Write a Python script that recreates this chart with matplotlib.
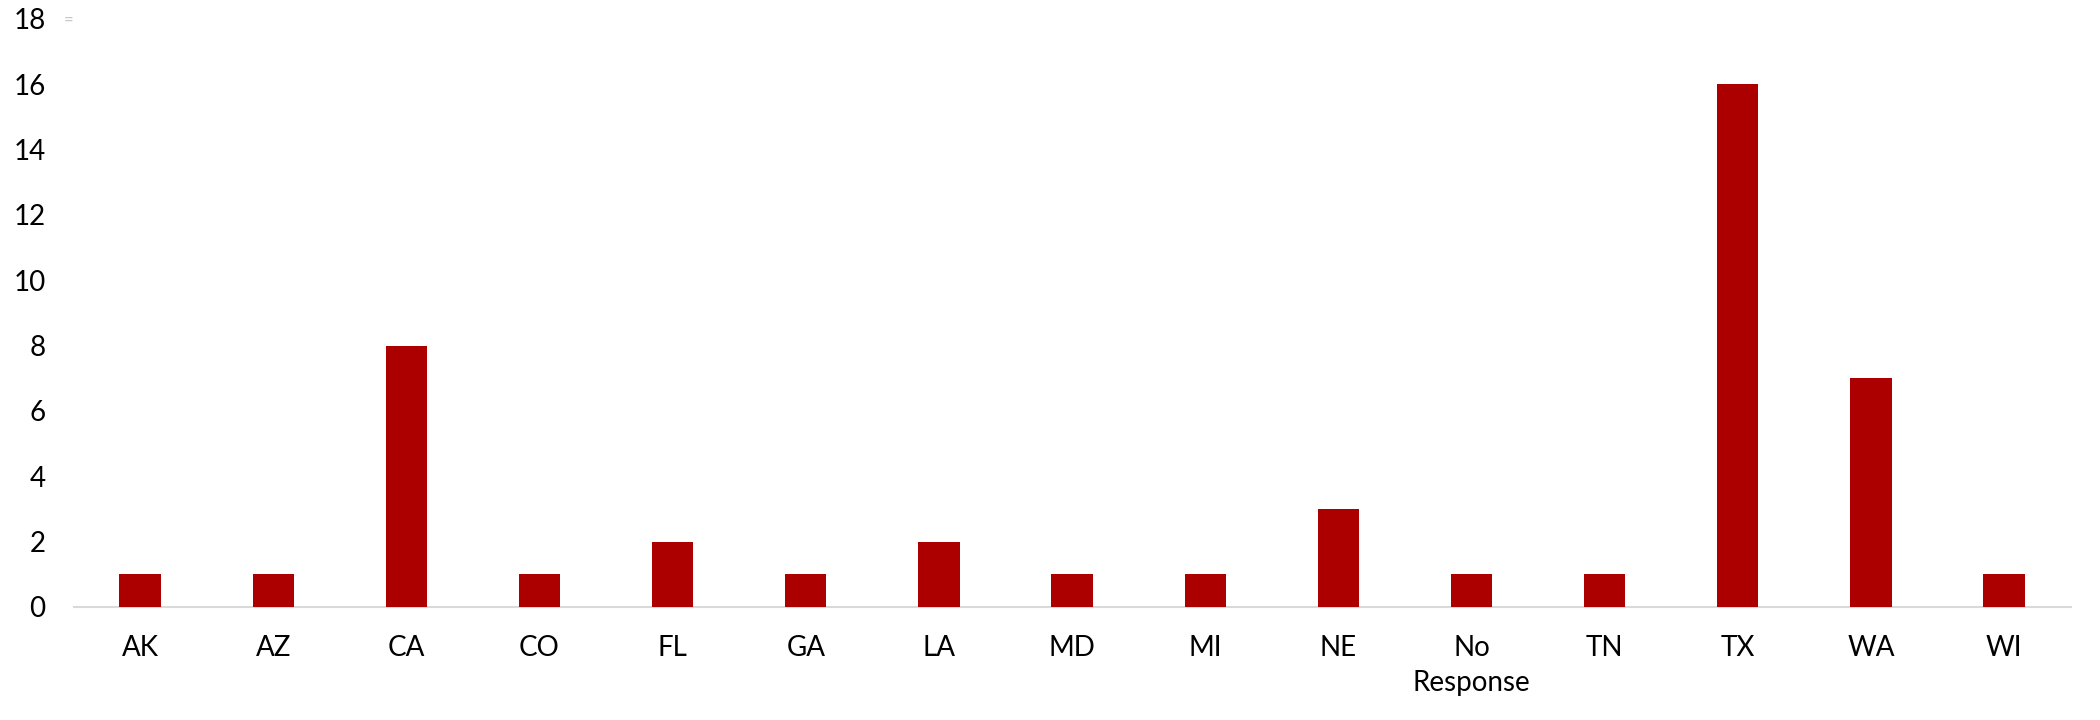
import matplotlib.pyplot as plt
import numpy as np

plt.rcParams['font.family'] = ['Lato', 'DejaVu Sans']

states = ['AK', 'AZ', 'CA', 'CO', 'FL', 'GA', 'LA', 'MD', 'MI', 'NE',
          'No\nResponse', 'TN', 'TX', 'WA', 'WI']
counts = [1, 1, 8, 1, 2, 1, 2, 1, 1, 3, 1, 1, 16, 7, 1]

fig = plt.figure(figsize=(21, 7.2), dpi=100)
ax = fig.add_axes([0.035, 0.157, 0.951, 0.817])

x = np.arange(len(states))
ax.bar(x, counts, width=0.31, color='#AC0000', zorder=3)

ax.set_xlim(-0.5, len(states) - 0.5)
ax.set_ylim(0, 18)
ax.set_yticks(np.arange(0, 19, 2))
ax.set_xticks(x)
ax.set_xticklabels(states, linespacing=1.45)

for s in ['top', 'right', 'left']:
    ax.spines[s].set_visible(False)
ax.spines['bottom'].set_color('#D9D9D9')
ax.spines['bottom'].set_linewidth(1.5)

ax.tick_params(axis='y', length=0, pad=20, labelsize=20)
ax.tick_params(axis='x', length=0, pad=20, labelsize=20)

# little grey marker near the top-left corner
fig.text(0.0325, 0.973, '=', color='#C8C8C8', fontsize=12, ha='center', va='center')

fig.savefig('out.png', dpi=100)
